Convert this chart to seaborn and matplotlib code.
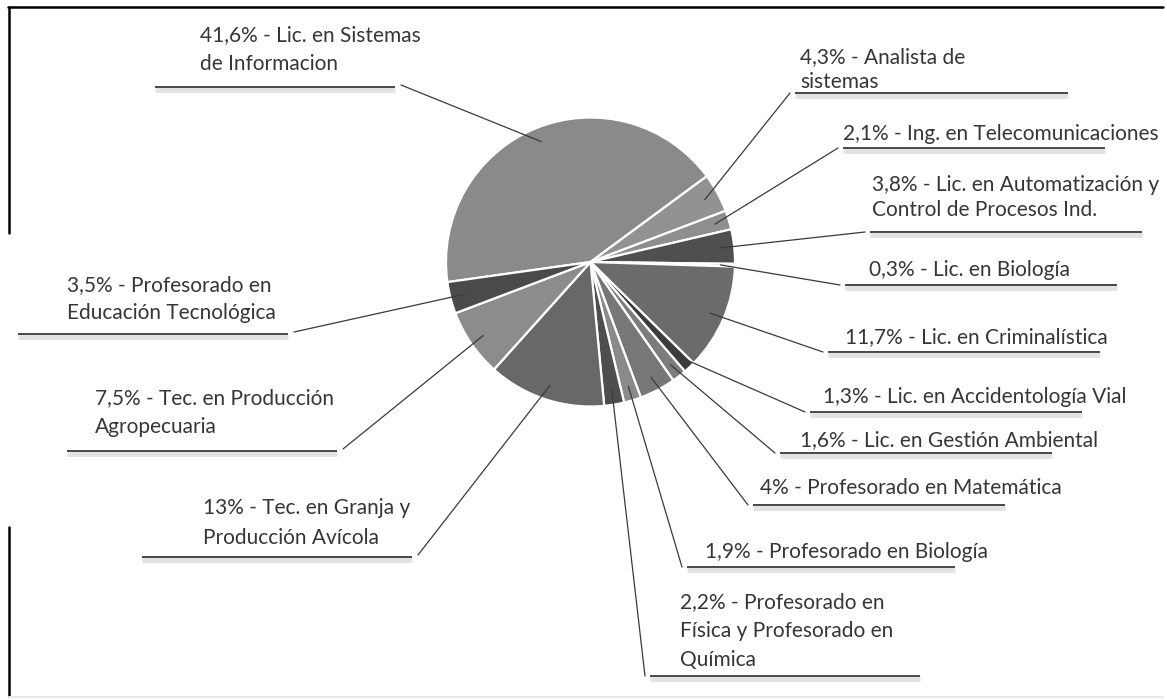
import matplotlib
matplotlib.use("Agg")
import matplotlib.pyplot as plt
import numpy as np
import seaborn as sns

# Porcentaje de alumnos por carrera, en sentido horario desde la porción mayor
carreras = [
    "Lic. en Sistemas\nde Informacion",
    "Analista de\nsistemas",
    "Ing. en Telecomunicaciones",
    "Lic. en Automatización y\nControl de Procesos Ind.",
    "Lic. en Biología",
    "Lic. en Criminalística",
    "Lic. en Accidentología Vial",
    "Lic. en Gestión Ambiental",
    "Profesorado en Matemática",
    "Profesorado en Biología",
    "Profesorado en\nFísica y Profesorado en\nQuímica",
    "Tec. en Granja y\nProducción Avícola",
    "Tec. en Producción\nAgropecuaria",
    "Profesorado en\nEducación Tecnológica",
]
porcentajes = [41.6, 4.3, 2.1, 3.8, 0.3, 11.7, 1.3, 1.6, 4.0, 1.9, 2.2, 13.0, 7.5, 3.5]

# grises de cada porción (estilo)
grises = ["#8a8a8a", "#929292", "#8e8e8e", "#4f4f4f", "#a0a0a0", "#6b6b6b", "#3c3c3c",
          "#7c7c7c", "#777777", "#8a8a8a", "#4e4e4e", "#686868", "#8c8c8c", "#4a4a4a"]

# posiciones de etiquetas en píxeles (y hacia abajo):
# x texto, y primera línea, paso entre líneas, subrayado x0, x1, y, lado
layout = [
    (200, 35, 29, 155, 395, 87, "left"),
    (800, 57, 25, 795, 1068, 93, "right"),
    (843, 134, 26, 843, 1105, 148, "right"),
    (872, 185, 25, 870, 1142, 232, "right"),
    (869, 270, 26, 845, 1117, 285, "right"),
    (845, 337, 26, 828, 1100, 352, "right"),
    (823, 397, 26, 810, 1082, 412, "right"),
    (800, 440, 26, 780, 1052, 453, "right"),
    (760, 488, 26, 753, 1005, 505, "right"),
    (705, 552, 26, 687, 955, 567, "right"),
    (680, 602, 29, 650, 920, 676, "right"),
    (203, 508, 30, 142, 412, 557, "left"),
    (95, 398, 29, 67, 337, 451, "left"),
    (67, 285, 28, 18, 288, 334, "left"),
]

W, H = 1167, 700
CX, CY, R = 590.5, H - 262, 144.5
START = 188

sns.set_theme(style="white")
plt.rcParams["font.family"] = ["Lato", "DejaVu Sans"]

fig = plt.figure(figsize=(W / 100, H / 100), dpi=100)
ax = fig.add_axes([0, 0, 1, 1])

wedges, _ = ax.pie(
    porcentajes,
    colors=grises,
    startangle=START,
    counterclock=False,
    center=(CX, CY),
    radius=R,
    wedgeprops=dict(edgecolor="white", linewidth=1.6),
    frame=True,
)
ax.set_xlim(0, W)
ax.set_ylim(0, H)
ax.set_aspect("equal")
ax.axis("off")


def fmt_pct(v):
    return f"{v:g}".replace(".", ",") + "%"


text_color = "#363636"
for w, pct, name, (tx, ty, step, ux0, ux1, uy, side) in zip(wedges, porcentajes, carreras, layout):
    lines = f"{fmt_pct(pct)} - {name}".split("\n")
    for i, line in enumerate(lines):
        ax.text(tx, H - (ty + i * step), line, ha="left", va="center",
                fontsize=15, color=text_color)
    # subrayado con sombra
    ax.plot([ux0, ux1], [H - uy - 3, H - uy - 3], color="#e2e2e2", lw=3.5,
            solid_capstyle="butt")
    ax.plot([ux0, ux1], [H - uy, H - uy], color="#474747", lw=1.4,
            solid_capstyle="butt")
    # línea guía desde la porción
    mid = np.deg2rad((w.theta1 + w.theta2) / 2)
    px = CX + 0.9 * R * np.cos(mid)
    py = CY + 0.9 * R * np.sin(mid)
    if side == "right":
        ex, ey = ux0 - 5, H - uy
    else:
        ex, ey = ux1 + 6, H - uy + 2
    ax.plot([px, ex], [py, ey], color="#3a3a3a", lw=0.9)

# marco
ax.plot([8, 1163], [H - 7, H - 7], color="black", lw=1.8, clip_on=False)
ax.plot([9, 9], [H - 7, H - 233], color="black", lw=1.8, clip_on=False)
ax.plot([9, 9], [H - 527, H - 696], color="black", lw=1.8, clip_on=False)
ax.plot([9, 1163], [H - 697, H - 697], color="#e6e6e6", lw=1.5, clip_on=False)

fig.savefig("out.png", dpi=100, facecolor="white")
plt.close(fig)
